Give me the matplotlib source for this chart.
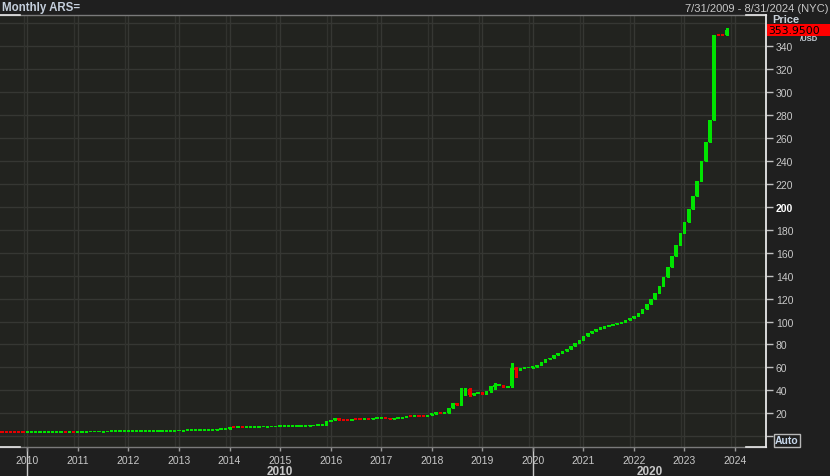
import matplotlib
matplotlib.use('Agg')
import matplotlib.pyplot as plt
import pandas as pd
from matplotlib.transforms import blended_transform_factory
from matplotlib.lines import Line2D
from matplotlib.patches import Rectangle

plt.rcParams['font.family'] = ['Liberation Sans', 'DejaVu Sans']

# ---- data: monthly USD/ARS closes ----
first_open = 3.85
start_month = '2009-07'
close_2009 = [3.845, 3.840, 3.835, 3.820, 3.810, 3.800]
close_2010 = [3.84, 3.86, 3.87, 3.88, 3.90, 3.93, 3.94, 3.95, 3.96, 3.95, 3.97, 3.96]
close_2011 = [4.00, 4.03, 4.05, 4.08, 4.09, 4.11, 4.14, 4.20, 4.21, 4.23, 4.27, 4.30]
close_2012 = [4.35, 4.36, 4.38, 4.41, 4.47, 4.52, 4.60, 4.66, 4.70, 4.79, 4.84, 4.92]
close_2013 = [4.98, 5.04, 5.12, 5.19, 5.29, 5.39, 5.49, 5.71, 5.79, 5.91, 6.10, 6.52]
close_2014 = [8.02, 7.88, 8.00, 7.99, 8.08, 8.13, 8.17, 8.40, 8.43, 8.50, 8.53, 8.55]
close_2015 = [8.64, 8.73, 8.82, 8.90, 8.99, 9.09, 9.23, 9.37, 9.42, 9.54, 9.70, 13.00]
close_2016 = [13.90, 15.60, 14.60, 14.20, 13.95, 15.00, 14.95, 14.90, 15.30, 15.20, 15.80, 15.85]
close_2017 = [15.90, 15.50, 15.40, 15.45, 16.10, 16.60, 17.70, 17.40, 17.45, 17.40, 17.35, 18.60]
close_2018 = [19.70, 20.15, 20.10, 20.50, 25.00, 28.90, 27.40, 37.00, 41.30, 36.10, 37.70, 37.75]
close_2019 = [37.00, 39.00, 43.40, 44.40, 44.90, 42.50, 43.90, 59.80, 57.60, 59.70, 59.80, 59.90]
close_2020 = [60.30, 62.20, 64.50, 66.90, 68.50, 70.50, 72.30, 74.10, 76.20, 78.30, 81.30, 84.10]
close_2021 = [87.30, 89.80, 92.00, 93.60, 94.70, 95.70, 96.70, 97.70, 98.70, 99.70, 101.10, 102.70]
close_2022 = [104.90, 107.40, 110.90, 115.30, 119.70, 125.20, 131.30, 138.70, 147.30, 156.90, 166.50, 177.10]
close_2023 = [187.00, 197.70, 209.00, 222.50, 240.00, 256.70, 276.00, 350.02, 349.98, 349.95, 353.95]

# visible wicks (month, high, low)
wick_months = ['2016-02', '2016-03', '2018-08', '2018-09', '2018-10', '2019-03',
               '2019-04', '2019-08', '2019-09', '2023-11']
wick_high = [15.9, 15.9, 42.0, 42.0, 41.6, 44.0, 46.7, 63.5, 60.0, 356.0]
wick_low = [13.9, 14.2, 27.0, 35.5, 35.0, 38.5, 41.5, 42.5, 52.0, 350.0]

year_ticks = list(range(2010, 2025))
price_ticks = list(range(0, 360, 20))
grid_levels = list(range(0, 361, 20))
decades = [2010, 2020]
title = 'Monthly ARS='
date_range = '7/31/2009 - 8/31/2024 (NYC)'

closes = (close_2009 + close_2010 + close_2011 + close_2012 + close_2013 + close_2014 +
          close_2015 + close_2016 + close_2017 + close_2018 + close_2019 + close_2020 +
          close_2021 + close_2022 + close_2023)
periods = pd.period_range(start_month, periods=len(closes), freq='M')
xs = [p.year + (p.month - 1) / 12 for p in periods]
opens = [first_open] + closes[:-1]
highs = [max(o, c) for o, c in zip(opens, closes)]
lows = [min(o, c) for o, c in zip(opens, closes)]
plabels = [str(p) for p in periods]
for m, h, l in zip(wick_months, wick_high, wick_low):
    i = plabels.index(m)
    highs[i] = max(highs[i], h)
    lows[i] = min(lows[i], l)

UP, DOWN = '#00e400', '#e80000'
colors = [UP if c >= o else DOWN for o, c in zip(opens, closes)]
min_h = 1.6
bottoms, heights = [], []
for o, c in zip(opens, closes):
    if abs(c - o) < min_h:
        bottoms.append((o + c) / 2 - min_h / 2)
        heights.append(min_h)
    else:
        bottoms.append(min(o, c))
        heights.append(abs(c - o))

# ---- figure ----
W, H = 830, 477
fig = plt.figure(figsize=(W / 100, H / 100), dpi=100, facecolor='#1f1f1f')
ax = fig.add_axes([0, 1 - 448 / H, 766 / W, 432 / H])
ax.set_facecolor('#22231f')
ax.set_xlim(2009.46, 2024.613)
ax.set_ylim(-9.4, 367.2)

for y in grid_levels:
    ax.axhline(y, color='#363733', lw=1, zorder=0.5)
for yr in year_ticks:
    ax.axvline(yr, color='#363733', lw=1, zorder=0.5)
    ax.axvline(yr - 0.073, color='#31322e', lw=1, zorder=0.5)

ax.vlines(xs, lows, highs, colors=colors, lw=1, zorder=2, antialiased=False)
ax.bar(xs, heights, bottom=bottoms, width=0.064, color=colors, linewidth=0, zorder=3,
       antialiased=False)

# frame
for s in ax.spines.values():
    s.set_visible(False)
gray = '#7a7a7a'
white = '#e8e8e8'
c = 20 / 766
ax.add_line(Line2D([0, 1], [1, 1], transform=ax.transAxes, color=gray, lw=1, clip_on=False))
ax.add_line(Line2D([0, 1], [0, 0], transform=ax.transAxes, color=gray, lw=1, clip_on=False))
for xa in ([0, c], [1 - c, 1]):
    for ya in (0, 1):
        ax.add_line(Line2D(xa, [ya, ya], transform=ax.transAxes, color=white, lw=1.2, clip_on=False))
ax.add_line(Line2D([1, 1], [0, 1], transform=ax.transAxes, color=white, lw=1.3, clip_on=False))

# x axis
ax.set_xticks(year_ticks)
ax.set_xticklabels([str(y) for y in year_ticks])
ax.tick_params(axis='x', length=3, width=1, color='#9a9a9a', labelcolor='#c8c8c8',
               labelsize=7.5, pad=2.5)
xt = ax.get_xaxis_transform()
for d in decades:
    ax.add_line(Line2D([d, d], [0, -29 / 432], transform=xt, color='#c8c8c8', lw=1,
                       clip_on=False, zorder=0))
dec_mid = [(decades[0] + decades[1]) / 2, (decades[1] + ax.get_xlim()[1]) / 2]
for d, xm in zip(decades, dec_mid):
    ax.text(xm, -24 / 432, str(d), transform=xt, ha='center', va='center',
            fontsize=8.5, fontweight='bold', color='#c8c8c8', clip_on=False)

# y axis (right)
ax.yaxis.tick_right()
ax.set_yticks(price_ticks)
ax.set_yticklabels([''] + [str(v) for v in price_ticks[1:]])
ax.tick_params(axis='y', length=5, width=1, color='#c0c0c0', labelcolor='#c8c8c8',
               labelsize=7.5, pad=2)
for lab in ax.get_yticklabels():
    if lab.get_text() == '200':
        lab.set_fontweight('bold')
        lab.set_color('#ffffff')

# texts
fig.text(2 / W, 1 - 8.5 / H, title, ha='left', va='center', fontsize=8.3,
         fontweight='bold', color='#c5cfdc')
fig.text(828 / W, 1 - 8.5 / H, date_range, ha='right', va='center', fontsize=8,
         color='#c8c8c8')
fig.text(772 / W, 1 - 20 / H, 'Price', ha='left', va='center', fontsize=8,
         fontweight='bold', color='#c8d0d8')
fig.text(800 / W, 1 - 39.5 / H, '/USD', ha='left', va='center', fontsize=5.5,
         fontweight='bold', color='#c8d0d8')

last = closes[-1]
bt = blended_transform_factory(fig.transFigure, ax.transData)
box_h = 12 / 1.147
rect = Rectangle((767 / W, last - box_h / 2), 63 / W, box_h, transform=bt,
                 facecolor='#ff0000', edgecolor='none', clip_on=False, zorder=10)
ax.add_patch(rect)
ax.text(768 / W, last, f'{last:.4f}', transform=bt, ha='left', va='center',
        fontsize=7.8, color='#000000', family='DejaVu Sans', clip_on=False, zorder=11)

fig.text(787 / W, 1 - 441.5 / H, 'Auto', ha='center', va='center', fontsize=7.5,
         fontweight='bold', color='#c8d8ec',
         bbox=dict(boxstyle='square,pad=0.12', fc='none', ec='#b8b8b8', lw=1))

fig.savefig('out.png', dpi=100, facecolor=fig.get_facecolor())
